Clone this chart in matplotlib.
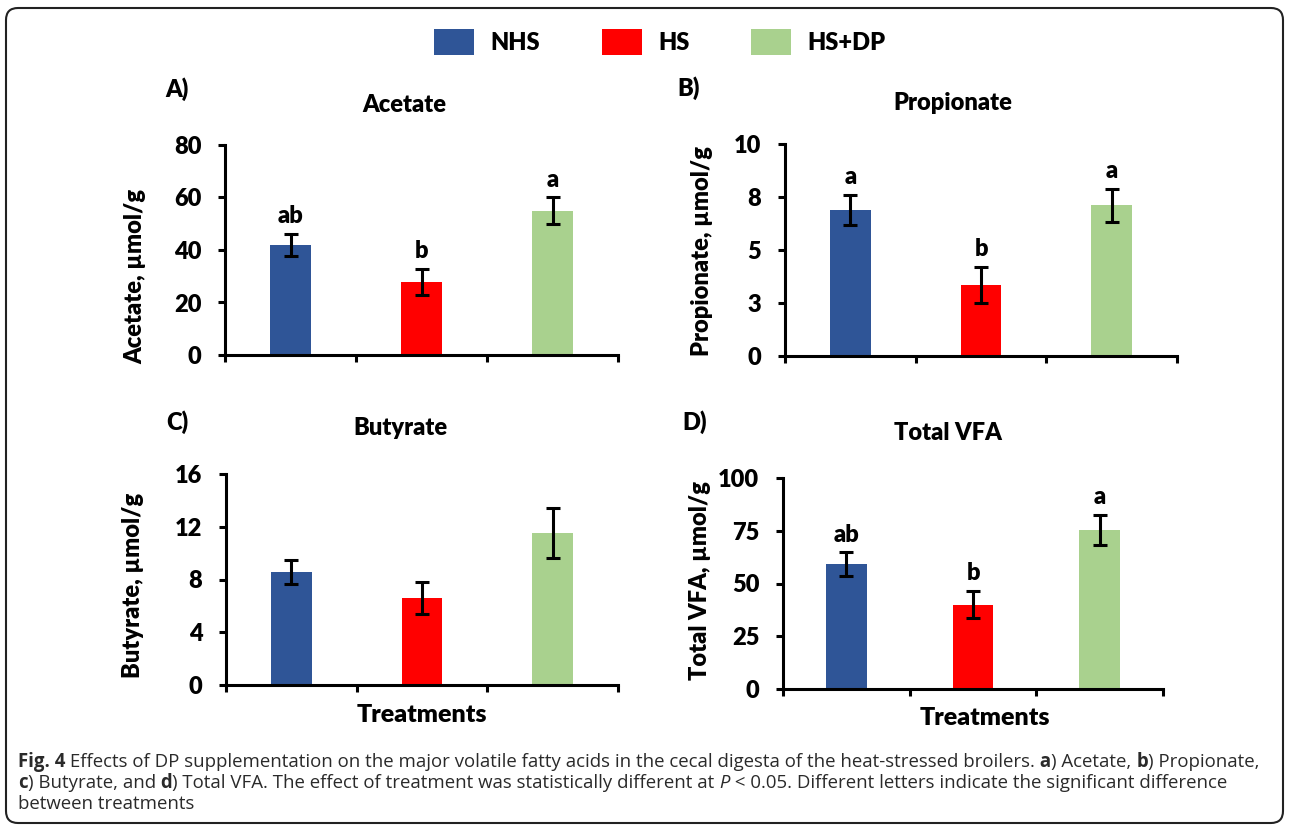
import matplotlib.pyplot as plt
from matplotlib.patches import FancyBboxPatch, Patch
from matplotlib.transforms import IdentityTransform

W, H = 1290, 827

# data
groups = ['NHS', 'HS', 'HS+DP']
colors = ['#2F5597', '#FF0000', '#A9D18E']

acetate = [42.0, 27.8, 55.0]
acetate_se = [4.2, 5.0, 5.0]
acetate_letters = ['ab', 'b', 'a']
acetate_ticks = [0, 20, 40, 60, 80]
acetate_ticklabels = ['0', '20', '40', '60', '80']

propionate = [6.9, 3.35, 7.1]
propionate_se = [0.7, 0.85, 0.8]
propionate_letters = ['a', 'b', 'a']
propionate_ticks = [0, 2.5, 5, 7.5, 10]
propionate_ticklabels = ['0', '3', '5', '8', '10']

butyrate = [8.55, 6.6, 11.5]
butyrate_se = [0.9, 1.2, 1.9]
butyrate_letters = ['', '', '']
butyrate_ticks = [0, 4, 8, 12, 16]
butyrate_ticklabels = ['0', '4', '8', '12', '16']

total_vfa = [59.2, 40.0, 75.5]
total_vfa_se = [5.5, 6.3, 7.2]
total_vfa_letters = ['ab', 'b', 'a']
total_vfa_ticks = [0, 25, 50, 75, 100]
total_vfa_ticklabels = ['0', '25', '50', '75', '100']

FONT = 'Lato'
plt.rcParams['font.family'] = [FONT, 'DejaVu Sans']

fig = plt.figure(figsize=(W / 100, H / 100), dpi=100)


def fx(px):
    return px / W


def fy(py):
    return 1 - py / H


def make_panel(box, vals, se, letters, ticks, ticklabels, ylabel, ylab_xy,
               tag, tag_xy, title, title_xy, width=0.31, xlabel_xy=None):
    l, t, r, b = box
    ax = fig.add_axes([fx(l), fy(b), fx(r - l), (b - t) / H])
    x = range(len(vals))
    ax.bar(x, vals, width=width, color=colors, yerr=se,
           error_kw=dict(ecolor='black', elinewidth=2.2, capsize=5, capthick=2.2))
    for i, (v, e, s) in enumerate(zip(vals, se, letters)):
        if s:
            ax.annotate(s, (i, v + e), xytext=(0, 5), textcoords='offset points',
                        ha='center', va='bottom', fontsize=17, weight='heavy')
    ax.set_xlim(-0.5, 2.5)
    ax.set_ylim(ticks[0], ticks[-1])
    ax.set_yticks(ticks)
    ax.set_yticklabels(ticklabels, fontsize=17, weight='heavy')
    ax.set_xticks([-0.5, 0.5, 1.5, 2.5])
    ax.tick_params(axis='x', labelbottom=False, length=5, width=2.2, direction='out')
    ax.tick_params(axis='y', length=5, width=2.2, direction='out', pad=12)
    for sp in ['top', 'right']:
        ax.spines[sp].set_visible(False)
    for sp in ['left', 'bottom']:
        ax.spines[sp].set_linewidth(2.2)
    fig.text(fx(ylab_xy[0]), fy(ylab_xy[1]), ylabel, rotation=90, ha='center',
             va='center', fontsize=17, weight='heavy')
    fig.text(fx(tag_xy[0]), fy(tag_xy[1]), tag, ha='left', va='center',
             fontsize=17, weight='heavy')
    fig.text(fx(title_xy[0]), fy(title_xy[1]), title, ha='center', va='center',
             fontsize=17, weight='heavy')
    if xlabel_xy:
        fig.text(fx(xlabel_xy[0]), fy(xlabel_xy[1]), 'Treatments', ha='center',
                 va='center', fontsize=18, weight='heavy')
    return ax


make_panel((225, 145, 618, 355), acetate, acetate_se, acetate_letters,
           acetate_ticks, acetate_ticklabels, 'Acetate, µmol/g', (135, 276),
           'A)', (165, 89), 'Acetate', (404, 105))
make_panel((785, 144, 1177, 356), propionate, propionate_se, propionate_letters,
           propionate_ticks, propionate_ticklabels, 'Propionate, µmol/g', (702, 251),
           'B)', (677, 88), 'Propionate', (953, 103))
make_panel((226, 474, 618, 685), butyrate, butyrate_se, butyrate_letters,
           butyrate_ticks, butyrate_ticklabels, 'Butyrate, µmol/g', (133, 585),
           'C)', (166, 422), 'Butyrate', (400, 428), xlabel_xy=(422, 715))
make_panel((783, 478, 1163, 689), total_vfa, total_vfa_se, total_vfa_letters,
           total_vfa_ticks, total_vfa_ticklabels, 'Total VFA, µmol/g', (700, 581),
           'D)', (682, 422), 'Total VFA', (948, 433), width=0.32,
           xlabel_xy=(985, 718))

# legend on top
handles = [Patch(facecolor=c, edgecolor='none') for c in colors]
fig.legend(handles, groups, loc='center', bbox_to_anchor=(fx(660), fy(42)),
           ncol=3, frameon=False, prop=dict(family=FONT, size=17, weight='heavy'),
           handlelength=1.7, handleheight=1.35, handletextpad=0.7,
           columnspacing=2.6)

# rounded frame around the whole figure
frame = FancyBboxPatch((6, H - 823), 1277, 815,
                       boxstyle='round,pad=0,rounding_size=12',
                       facecolor='none', edgecolor='#222222', linewidth=1.5,
                       transform=IdentityTransform())
fig.add_artist(frame)

# caption with mixed styles
cap_lines = [
    [('Fig. 4', 'bold', 'normal'),
     (' Effects of DP supplementation on the major volatile fatty acids in the cecal digesta of the heat-stressed broilers.', 'normal', 'normal'),
     (' a', 'bold', 'normal'), (') Acetate,', 'normal', 'normal'),
     (' b', 'bold', 'normal'), (') Propionate,', 'normal', 'normal')],
    [('c', 'bold', 'normal'), (') Butyrate, and', 'normal', 'normal'),
     (' d', 'bold', 'normal'),
     (') Total VFA. The effect of treatment was statistically different at', 'normal', 'normal'),
     (' P', 'normal', 'italic'),
     (' < 0.05. Different letters indicate the significant difference', 'normal', 'normal')],
    [('between treatments', 'normal', 'normal')],
]
cap_y = [762, 783, 804]
renderer = fig.canvas.get_renderer()
for segs, y in zip(cap_lines, cap_y):
    xpos = 18
    for txt, wt, st in segs:
        t = fig.text(fx(xpos), fy(y), txt, ha='left', va='center', fontsize=13.45,
                     family=['Open Sans', 'DejaVu Sans'], weight=wt, style=st,
                     color='#2a2a2a')
        xpos += t.get_window_extent(renderer).width

fig.savefig('out.png', dpi=100)
